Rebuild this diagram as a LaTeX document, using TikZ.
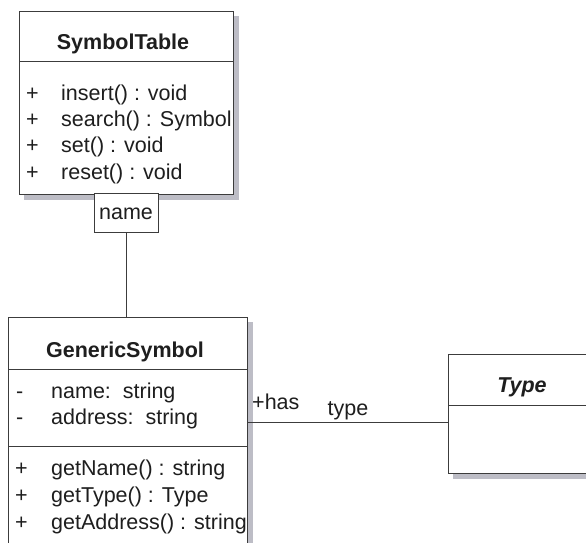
\documentclass[tikz,border=0pt]{standalone}
\usepackage{fontspec}
\setmainfont{Liberation Sans}
\definecolor{ln}{HTML}{3C3C3C}
\definecolor{shd}{HTML}{BDBDC6}
\definecolor{tx}{HTML}{1E1E1E}
\begin{document}
\begin{tikzpicture}[x=1pt,y=-1pt,
  classbox/.style={draw=ln,line width=1pt,fill=white,rectangle,inner sep=0pt,anchor=north west},
  sepline/.style={draw=ln,line width=1pt},
  conn/.style={draw=ln,line width=0.9pt},
  txt/.style={inner sep=0pt,anchor=base west,text=tx,font=\fontsize{21.5}{25}\selectfont},
  ttl/.style={inner sep=0pt,anchor=base,text=tx,font=\fontsize{21.5}{25}\selectfont\bfseries}
]
\useasboundingbox (0,0) rectangle (586,543);
\clip (0,0) rectangle (586,543);
\fill[white] (0,0) rectangle (586,543);

% SymbolTable
\fill[shd] (24,16) rectangle (239,200);
\node[classbox,minimum width=214pt,minimum height=183pt] (st) at (19,11) {};
\draw[sepline] (19,62) -- (233,62);
\node[ttl] (sttitle) at (123,50) {SymbolTable};
\node[txt] (stp1) at (26,100) {+};
\node[txt] (stm1) at (61,100) {insert() : void};
\node[txt] (stp2) at (26,126) {+};
\node[txt] (stm2) at (61,126) {search() : Symbol};
\node[txt] (stp3) at (26,152.5) {+};
\node[txt] (stm3) at (61,152.5) {set() : void};
\node[txt] (stp4) at (26,179) {+};
\node[txt] (stm4) at (61,179) {reset() : void};

% name qualifier
\node[classbox,minimum width=64pt,minimum height=39pt] (nm) at (94,193) {};
\node[inner sep=0pt,anchor=base,text=tx,font=\fontsize{21.5}{25}\selectfont] (nmtext) at (126,219) {name};

% GenericSymbol
\fill[shd] (13,322) rectangle (253,570);
\node[classbox,minimum width=239pt,minimum height=250pt] (gen) at (8,317) {};
\draw[sepline] (8,369) -- (247,369);
\draw[sepline] (8,446) -- (247,446);
\node[ttl] (gentitle) at (125,357) {GenericSymbol};
\node[txt] (ga1) at (16,398.5) {-};
\node[txt] (gat1) at (51,398.5) {name:\ \ string};
\node[txt] (ga2) at (16,424.5) {-};
\node[txt] (gat2) at (51,424.5) {address:\ \ string};
\node[txt] (gp1) at (15,475) {+};
\node[txt] (gm1) at (51,475) {getName() : string};
\node[txt] (gp2) at (15,502) {+};
\node[txt] (gm2) at (51,502) {getType() : Type};
\node[txt] (gp3) at (15,529) {+};
\node[txt] (gm3) at (51,529) {getAddress() : string};

% Type
\fill[shd] (453,359) rectangle (601,479);
\node[classbox,minimum width=148pt,minimum height=119pt] (ty) at (448,354) {};
\draw[sepline] (448,405) -- (596,405);
\node[ttl,font=\fontsize{21.5}{25}\selectfont\bfseries\itshape] (tytitle) at (522,392) {Type};

% connectors
\draw[conn] (nm.south) -- (nm.south |- gen.north);
\coordinate (assoc) at (0,422);
\draw[conn] (gen.east |- assoc) -- (ty.west |- assoc);
\node[inner sep=0pt,anchor=base west,text=tx,font=\fontsize{21.5}{25}\selectfont] (has) at (252,409) {+has};
\node[inner sep=0pt,anchor=base,text=tx,font=\fontsize{21.5}{25}\selectfont] (role) at (348,415) {type};
\end{tikzpicture}
\end{document}
